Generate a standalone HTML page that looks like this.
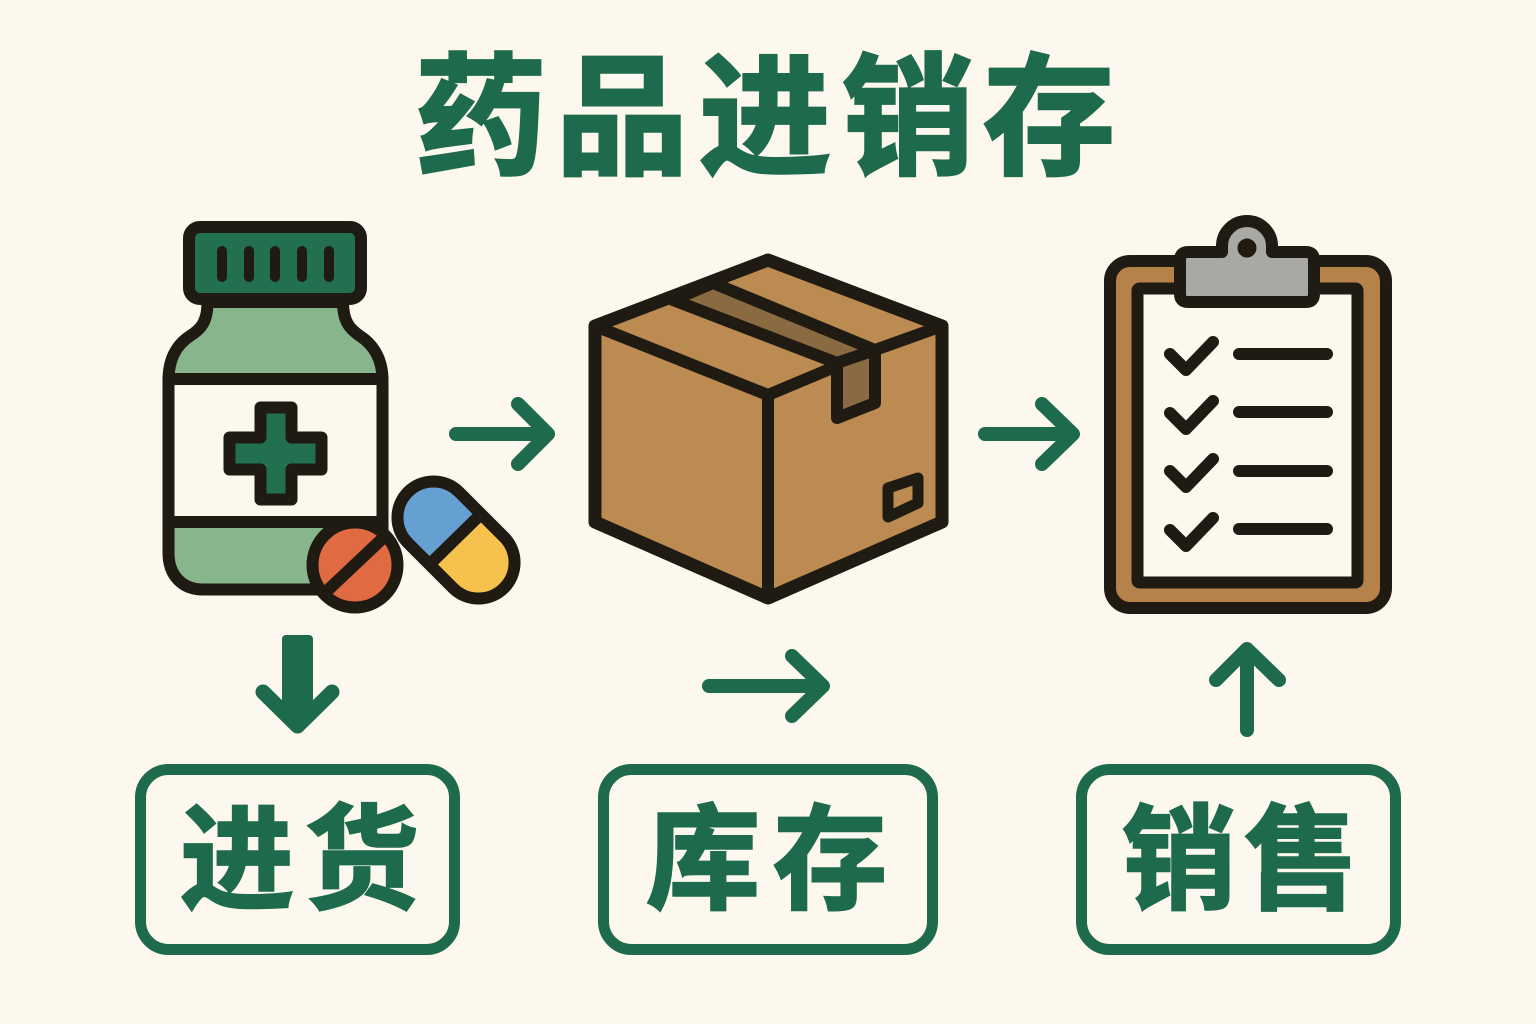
<!DOCTYPE html>
<html><head><meta charset="utf-8"><style>html,body{margin:0;padding:0;background:#fdf8ee}svg{display:block}
text{font-family:"Liberation Sans","Noto Sans CJK SC",sans-serif;font-weight:700;fill:#1e6a4c;stroke:#1e6a4c;text-anchor:middle}</style></head>
<body>
<svg width="1536" height="1024" viewBox="0 0 1536 1024" xmlns="http://www.w3.org/2000/svg">
<rect width="1536" height="1024" fill="#fdf8ee"/>
<text x="481 622 765 908 1049" y="164" font-size="132" stroke-width="3">药品进销存</text>

<!-- bottle -->
<g stroke="#1f1a12" stroke-width="12" stroke-linejoin="round" stroke-linecap="round">
<path d="M207.500 302 C207.500 322 201 329 190 336 C176 345 168.500 360 168.500 380 V553 C168.500 575 182 589.500 203 589.500 H348 C368 589.500 382.500 575 382.500 553 V380 C382.500 360 374 345 360 336 C350 329 343 322 343 302 Z" fill="#88b68c"/>
<rect x="168.500" y="379" width="214" height="143" fill="#fdf8ee"/>
<rect x="189" y="227" width="172" height="72" rx="11" fill="#22704f"/>
<path d="M222 251V277M249 251V277M275 251V277M302 251V277M329 251V277" stroke-width="10"/>
<path d="M260.500 407.500H291.500V437.500H321.500V469.500H291.500V499.500H260.500V469.500H229.500V437.500H260.500Z" fill="#22704f"/>
<circle cx="355" cy="565" r="42.500" fill="#e06a42"/>
<path d="M328 590L383 538"/>
<!-- capsule -->
<path d="M408 543 A36 36 0 0 1 459 492 L481 514.500 L430.500 564 Z" fill="#65a0d2" stroke="none"/>
<path d="M430.500 564 L481 514.500 L504 537 A36 36 0 0 1 453 588 Z" fill="#f7c14e" stroke="none"/>
<path d="M408 543 A36 36 0 0 1 459 492 L504 537 A36 36 0 0 1 453 588 Z" fill="none"/>
<path d="M432 562L479 516"/>
</g>

<!-- box -->
<g stroke="#1f1a12" stroke-width="13" stroke-linejoin="round" stroke-linecap="round">
<path d="M768 260L942 326V522L768 598L595 522V326Z" fill="#bc8b52"/>
<path d="M673 300L713 283L875 350L837 363Z" fill="#8a6a40" stroke-width="12"/>
<path d="M837 363L875 350V403L837 418Z" fill="#8a6a40" stroke-width="12"/>
<path d="M595 326L768 395L837 366M875 350L942 326M768 395V598" fill="none" stroke-width="12"/>
<path d="M888 488L918 478V503L888 517Z" fill="#bc8b52" stroke-width="11"/>
</g>

<!-- clipboard -->
<g stroke="#1f1a12" stroke-width="12" stroke-linejoin="round" stroke-linecap="round">
<rect x="1110" y="261" width="276" height="347" rx="20" fill="#b5834a"/>
<rect x="1137.500" y="288.500" width="220" height="294" rx="2" fill="#fdf8ee"/>
<path d="M1222 252 V246 A25 25 0 0 1 1272 246 V252 H1306 Q1314 252 1314 260 V294 Q1314 302 1306 302 H1188 Q1180 302 1180 294 V260 Q1180 252 1188 252 Z" fill="#a8a9a5"/>
<circle cx="1247" cy="248" r="4.500" fill="#1f1a12" stroke-width="10"/>
<g fill="none">
<path d="M1170 354L1186 370L1213 342"/>
<path d="M1170 413L1186 429L1213 401"/>
<path d="M1170 471L1186 487L1213 459"/>
<path d="M1170 530L1186 546L1213 518"/>
<path d="M1239 354H1327M1239 412H1327M1239 471H1327M1239 529H1327"/>
</g>
</g>

<!-- arrows -->
<g fill="none" stroke="#1e6a4c" stroke-width="14" stroke-linecap="round" stroke-linejoin="round">
<path d="M456 434H546M518 404L548 434L518 464"/>
<path d="M985 434H1071M1042 404L1073 434L1042 464"/>
<path d="M709 686H822M792 656L823 686L792 716"/>
<path d="M1247 730V650M1216 680L1247 649L1279 680"/>
<path d="M263 692L297.500 726L332 692" stroke-width="15"/>
<rect x="282" y="635" width="31" height="80" rx="4" fill="#1e6a4c" stroke="none"/>
</g>

<!-- label boxes -->
<g fill="none" stroke="#1e6a4c" stroke-width="11">
<rect x="140.500" y="769.500" width="314" height="180" rx="28"/>
<rect x="603.500" y="769.500" width="329" height="180" rx="28"/>
<rect x="1081.500" y="769.500" width="314" height="180" rx="28"/>
</g>
<text x="237 362" y="900" font-size="114" stroke-width="2.500">进货</text>
<text x="703 830" y="900" font-size="114" stroke-width="2.500">库存</text>
<text x="1179 1301" y="900" font-size="114" stroke-width="2.500">销售</text>
</svg>
</body></html>
